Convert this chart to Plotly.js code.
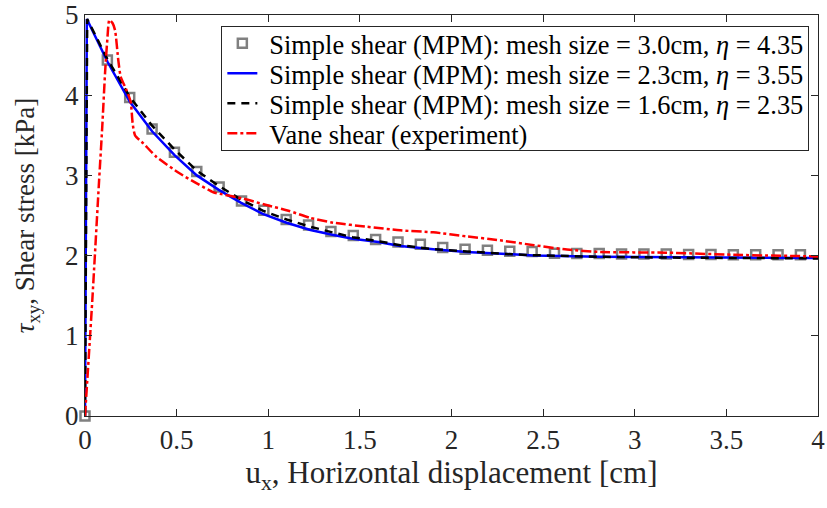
<!DOCTYPE html>
<html>
<head>
<meta charset="utf-8">
<script src="https://cdn.plot.ly/plotly-3.0.1.min.js"></script>
<style>html,body{margin:0;padding:0;background:#fff;}#chart{width:827px;height:508px;}</style>
</head>
<body>
<div id="chart"></div>
<script>
// Simple shear (MPM), mesh size 3.0cm — markers
const mpm30_x = [0, 0.122, 0.244, 0.366, 0.488, 0.610, 0.732, 0.854, 0.976, 1.098, 1.220, 1.342, 1.464, 1.586, 1.708, 1.830, 1.952, 2.074, 2.196, 2.318, 2.440, 2.562, 2.684, 2.806, 2.928, 3.050, 3.172, 3.294, 3.416, 3.538, 3.660, 3.782, 3.904];
const mpm30_y = [0, 4.44, 3.97, 3.58, 3.29, 3.05, 2.855, 2.68, 2.565, 2.45, 2.38, 2.30, 2.25, 2.20, 2.17, 2.14, 2.10, 2.08, 2.066, 2.054, 2.05, 2.03, 2.025, 2.025, 2.02, 2.02, 2.02, 2.015, 2.015, 2.01, 2.01, 2.01, 2.01];

// Simple shear (MPM), mesh size 2.3cm — blue solid
const mpm23_x = [0, 0.004, 0.01, 0.122, 0.244, 0.366, 0.49, 0.61, 0.73, 0.85, 0.97, 1.10, 1.23, 1.35, 1.46, 1.60, 1.72, 1.90, 2.08, 2.30, 2.45, 2.81, 3.20, 3.60, 4.00];
const mpm23_y = [0, 2.5, 4.95, 4.42, 3.92, 3.55, 3.25, 3.00, 2.82, 2.66, 2.52, 2.41, 2.32, 2.26, 2.21, 2.17, 2.12, 2.08, 2.045, 2.02, 2.00, 1.985, 1.98, 1.975, 1.97];

// Simple shear (MPM), mesh size 1.6cm — black dashed
const mpm16_x = [0, 0.006, 0.012, 0.122, 0.244, 0.366, 0.49, 0.61, 0.73, 0.85, 0.97, 1.10, 1.23, 1.35, 1.46, 1.60, 1.72, 1.90, 2.08, 2.30, 2.45, 2.81, 3.20, 3.60, 4.00];
const mpm16_y = [0, 2.5, 4.95, 4.45, 3.98, 3.62, 3.32, 3.06, 2.87, 2.70, 2.56, 2.45, 2.36, 2.29, 2.23, 2.18, 2.13, 2.08, 2.05, 2.02, 2.005, 1.985, 1.975, 1.97, 1.965];

// Vane shear (experiment) — red dash-dot
const vane_x = [0, 0.04, 0.077, 0.094, 0.11, 0.122, 0.133, 0.15, 0.164, 0.182, 0.195, 0.227, 0.249, 0.26, 0.273, 0.318, 0.39, 0.52, 0.61, 0.70, 0.737, 0.864, 0.99, 1.11, 1.23, 1.355, 1.537, 1.72, 1.90, 2.08, 2.265, 2.45, 2.63, 2.81, 3.17, 3.54, 4.00];
const vane_y = [0, 1.45, 2.94, 3.6, 4.3, 4.7, 4.94, 4.9, 4.81, 4.43, 4.23, 4.06, 3.92, 3.65, 3.50, 3.40, 3.23, 3.02, 2.90, 2.79, 2.77, 2.71, 2.63, 2.56, 2.47, 2.41, 2.36, 2.315, 2.29, 2.24, 2.19, 2.13, 2.075, 2.045, 2.037, 2.01, 1.99];

const xTicks = [0, 0.5, 1, 1.5, 2, 2.5, 3, 3.5, 4];
const xTickText = ['0', '0.5', '1', '1.5', '2', '2.5', '3', '3.5', '4'];
const yTicks = [0, 1, 2, 3, 4, 5];
const yTickText = ['0', '1', '2', '3', '4', '5'];

const FONT = '"Liberation Serif", "Times New Roman", serif';

const traces = [
  {x: mpm30_x, y: mpm30_y, mode: 'markers', type: 'scatter', cliponaxis: false,
   name: 'Simple shear (MPM): mesh size = 3.0cm, <i>η</i> = 4.35',
   marker: {symbol: 'square-open', size: 9, color: '#808080', line: {width: 2.5, color: '#808080'}}},
  {x: mpm23_x, y: mpm23_y, mode: 'lines', type: 'scatter',
   name: 'Simple shear (MPM): mesh size = 2.3cm, <i>η</i> = 3.55',
   line: {color: '#0000ff', width: 2.5}},
  {x: mpm16_x, y: mpm16_y, mode: 'lines', type: 'scatter',
   name: 'Simple shear (MPM): mesh size = 1.6cm, <i>η</i> = 2.35',
   line: {color: '#000000', width: 2.5, dash: '8px,6px'}},
  {x: vane_x, y: vane_y, mode: 'lines', type: 'scatter',
   name: 'Vane shear (experiment)',
   line: {color: '#ff0000', width: 2.5, dash: '10px,3px,3px,3px', shape: 'spline', smoothing: 0.6}}
];

const axisCommon = {
  showgrid: false, zeroline: false, showline: true, mirror: 'ticks',
  linecolor: '#262626', linewidth: 1, ticks: 'inside', ticklen: 7, tickcolor: '#262626', tickwidth: 1,
  tickfont: {family: FONT, size: 27, color: '#262626'}
};

const layout = {
  width: 827, height: 508,
  margin: {l: 85, r: 9, t: 15, b: 92},
  paper_bgcolor: '#ffffff', plot_bgcolor: '#ffffff',
  font: {family: FONT, color: '#262626'},
  showlegend: true,
  legend: {x: 0.186, y: 0.972, xanchor: 'left', yanchor: 'top',
           bgcolor: '#ffffff', bordercolor: '#262626', borderwidth: 1,
           font: {family: FONT, size: 26.4, color: '#000000'}, tracegroupgap: 0},
  xaxis: Object.assign({}, axisCommon, {
    range: [0, 4], tickvals: xTicks, ticktext: xTickText,
    title: {text: 'u<sub>x</sub>, Horizontal displacement [cm]', font: {family: FONT, size: 31, color: '#262626'}, standoff: 6}
  }),
  yaxis: Object.assign({}, axisCommon, {
    range: [0, 5], tickvals: yTicks, ticktext: yTickText,
    title: {text: '<i>τ</i><sub>xy</sub>, Shear stress [kPa]', font: {family: FONT, size: 27, color: '#262626'}, standoff: 22}
  })
};

function tightenLegend(gd) {
  // compress legend row spacing to match the reference (~30px per row)
  const leg = gd.querySelector('.legend');
  if (!leg) return;
  const items = leg.querySelectorAll('.traces');
  if (!items.length) return;
  const rowH = 30;
  const textShift = 7;
  const m = /translate\(([-\d.]+)[ ,]+([-\d.]+)\)/.exec(items[0].getAttribute('transform') || '');
  if (!m) return;
  const x0 = parseFloat(m[1]);
  const y0 = 17;
  items.forEach((g, i) => {
    g.setAttribute('transform', 'translate(' + x0 + ',' + (y0 + i * rowH) + ')');
    const t = g.querySelector('text.legendtext');
    if (t) {
      const tx = parseFloat(t.getAttribute('x') || '0') + textShift;
      t.setAttribute('x', tx);
      t.querySelectorAll('tspan[x]').forEach(ts => ts.setAttribute('x', tx));
    }
  });
  const h = y0 + (items.length - 1) * rowH + 17;
  const bg = leg.querySelector('rect.bg');
  if (bg) {
    bg.setAttribute('height', h);
    bg.setAttribute('width', parseFloat(bg.getAttribute('width')) + textShift);
  }
  document.querySelectorAll('clipPath[id^="legend"] rect').forEach(r => {
    r.setAttribute('height', h);
    r.setAttribute('width', parseFloat(r.getAttribute('width')) + textShift);
  });
}

Plotly.newPlot('chart', traces, layout, {displayModeBar: false, staticPlot: true}).then(gd => tightenLegend(gd));
</script>
</body>
</html>
